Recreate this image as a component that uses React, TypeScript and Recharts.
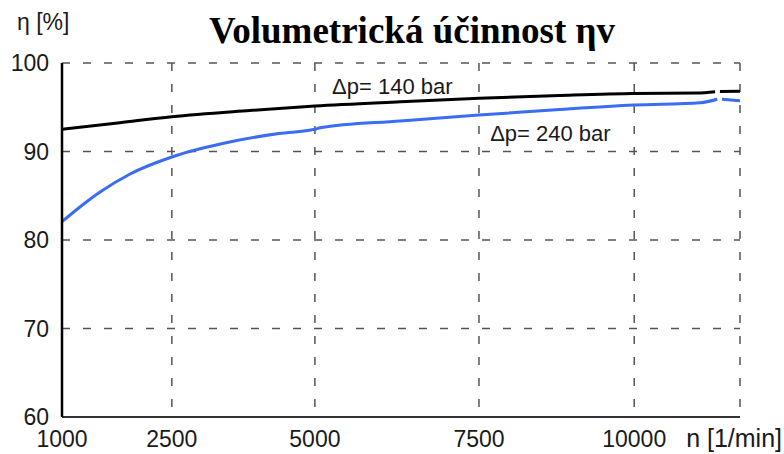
import { LineChart, Line, XAxis, YAxis, CartesianGrid, ReferenceDot } from 'recharts';

// x axis of the original is not evenly spaced, so grid stops + their relative position
const X_STOPS = [1000, 2500, 5000, 7500, 10000, 12000];
const X_STOP_POS = [0, 0.162, 0.373, 0.615, 0.844, 1];
const X_TICK_LABELS = ['1000', '2500', '5000', '7500', '10000', 'n [1/min]'];
const Y_TICKS = [60, 70, 80, 90, 100];

// Δp = 140 bar (black)
const N_140 = [1000, 1790, 2500, 3860, 5000, 6300, 7500, 8800, 10000, 11190, 11530, 11575, 11620, 12000];
const ETA_140 = [92.5, 93.25, 93.93, 94.63, 95.14, 95.62, 96.02, 96.33, 96.55, 96.6, 96.75, null, 96.78, 96.8];

// Δp = 240 bar (blue)
const N_240 = [1000, 1245, 1520, 1930, 2500, 3510, 4370, 5000, 5080, 6300, 7500, 8800, 10000, 11250, 11570, 11615, 11660, 12000];
const ETA_240 = [82.07, 83.73, 85.42, 87.46, 89.38, 91.07, 92.03, 92.51, 92.68, 93.45, 94.12, 94.75, 95.25, 95.51, 95.9, null, 95.9, 95.74];

const data140 = N_140.map((n, i) => ({ n, eta: ETA_140[i] }));
const data240 = N_240.map((n, i) => ({ n, eta: ETA_240[i] }));

function piecewiseScale(stops: number[], pos: number[]): any {
  let dom = [stops[0], stops[stops.length - 1]];
  let rng = [0, 1];
  const s: any = (v: number) => {
    let i = 1;
    while (i < stops.length - 1 && v > stops[i]) i++;
    const t = pos[i - 1] + ((v - stops[i - 1]) / (stops[i] - stops[i - 1])) * (pos[i] - pos[i - 1]);
    return rng[0] + t * (rng[1] - rng[0]);
  };
  s.domain = (d?: number[]) => {
    if (d === undefined) return dom;
    dom = d.slice();
    return s;
  };
  s.range = (r?: number[]) => {
    if (r === undefined) return rng;
    rng = r.slice();
    return s;
  };
  s.copy = () => piecewiseScale(stops, pos).domain(dom).range(rng);
  s.ticks = () => stops;
  s.nice = () => s;
  s.clamp = () => s;
  s.tickFormat = () => (v: number) => String(v);
  return s;
}

const xScale = piecewiseScale(X_STOPS, X_STOP_POS);
const FONT = '"Liberation Sans", Arial, sans-serif';

function XTick({ x, y, payload }: any) {
  const idx = X_STOPS.indexOf(payload.value);
  const last = idx === X_STOPS.length - 1;
  return (
    <text
      x={last ? x + 42 : x}
      y={y + 30}
      textAnchor={last ? 'end' : 'middle'}
      fontSize={last ? 25 : 23}
      fontFamily={FONT}
      fill="#1a1a1a"
    >
      {X_TICK_LABELS[idx]}
    </text>
  );
}

export default function App() {
  return (
    <div style={{ position: 'absolute', left: 0, top: 0, width: 784, height: 454, background: '#fff' }}>
      <div
        style={{
          position: 'absolute',
          left: 17,
          top: 9,
          fontFamily: FONT,
          fontSize: 23,
          lineHeight: '26px',
          color: '#1a1a1a',
        }}
      >
        η [%]
      </div>
      <div
        style={{
          position: 'absolute',
          left: 112,
          width: 600,
          top: 12,
          textAlign: 'center',
          fontFamily: '"Liberation Serif", "Times New Roman", serif',
          fontWeight: 'bold',
          fontSize: 37,
          lineHeight: '37px',
          color: '#000',
        }}
      >
        Volumetrická účinnost ηv
      </div>
      <LineChart
        width={784}
        height={454}
        margin={{ top: 63, right: 44, left: 0, bottom: 0 }}
        style={{ position: 'absolute', left: 0, top: 0 }}
      >
        <CartesianGrid stroke="#555" strokeWidth={1.5} strokeDasharray="8 13" />
        <XAxis
          dataKey="n"
          type="number"
          scale={xScale}
          domain={[X_STOPS[0], X_STOPS[X_STOPS.length - 1]]}
          ticks={X_STOPS}
          interval={0}
          height={37}
          tickSize={0}
          tickMargin={0}
          axisLine={{ stroke: '#333', strokeWidth: 2 }}
          tick={<XTick />}
          allowDataOverflow
        />
        <YAxis
          type="number"
          domain={[60, 100]}
          ticks={Y_TICKS}
          width={62}
          tickSize={0}
          tickMargin={13}
          axisLine={{ stroke: '#000', strokeWidth: 2.5 }}
          tick={{ fontSize: 23, fontFamily: FONT, fill: '#1a1a1a' }}
        />
        <Line
          data={data140}
          dataKey="eta"
          type="monotone"
          stroke="#000"
          strokeWidth={3}
          dot={false}
          connectNulls={false}
          isAnimationActive={false}
        />
        <Line
          data={data240}
          dataKey="eta"
          type="monotone"
          stroke="#3a6cf4"
          strokeWidth={3}
          dot={false}
          connectNulls={false}
          isAnimationActive={false}
        />
        <ReferenceDot
          x={6180}
          y={97.4}
          r={0}
          stroke="none"
          fill="none"
          label={{ value: 'Δp= 140 bar', position: 'center', fontSize: 22, fontFamily: FONT, fill: '#1a1a1a' }}
        />
        <ReferenceDot
          x={8650}
          y={92.1}
          r={0}
          stroke="none"
          fill="none"
          label={{ value: 'Δp= 240 bar', position: 'center', fontSize: 22, fontFamily: FONT, fill: '#1a1a1a' }}
        />
      </LineChart>
    </div>
  );
}
